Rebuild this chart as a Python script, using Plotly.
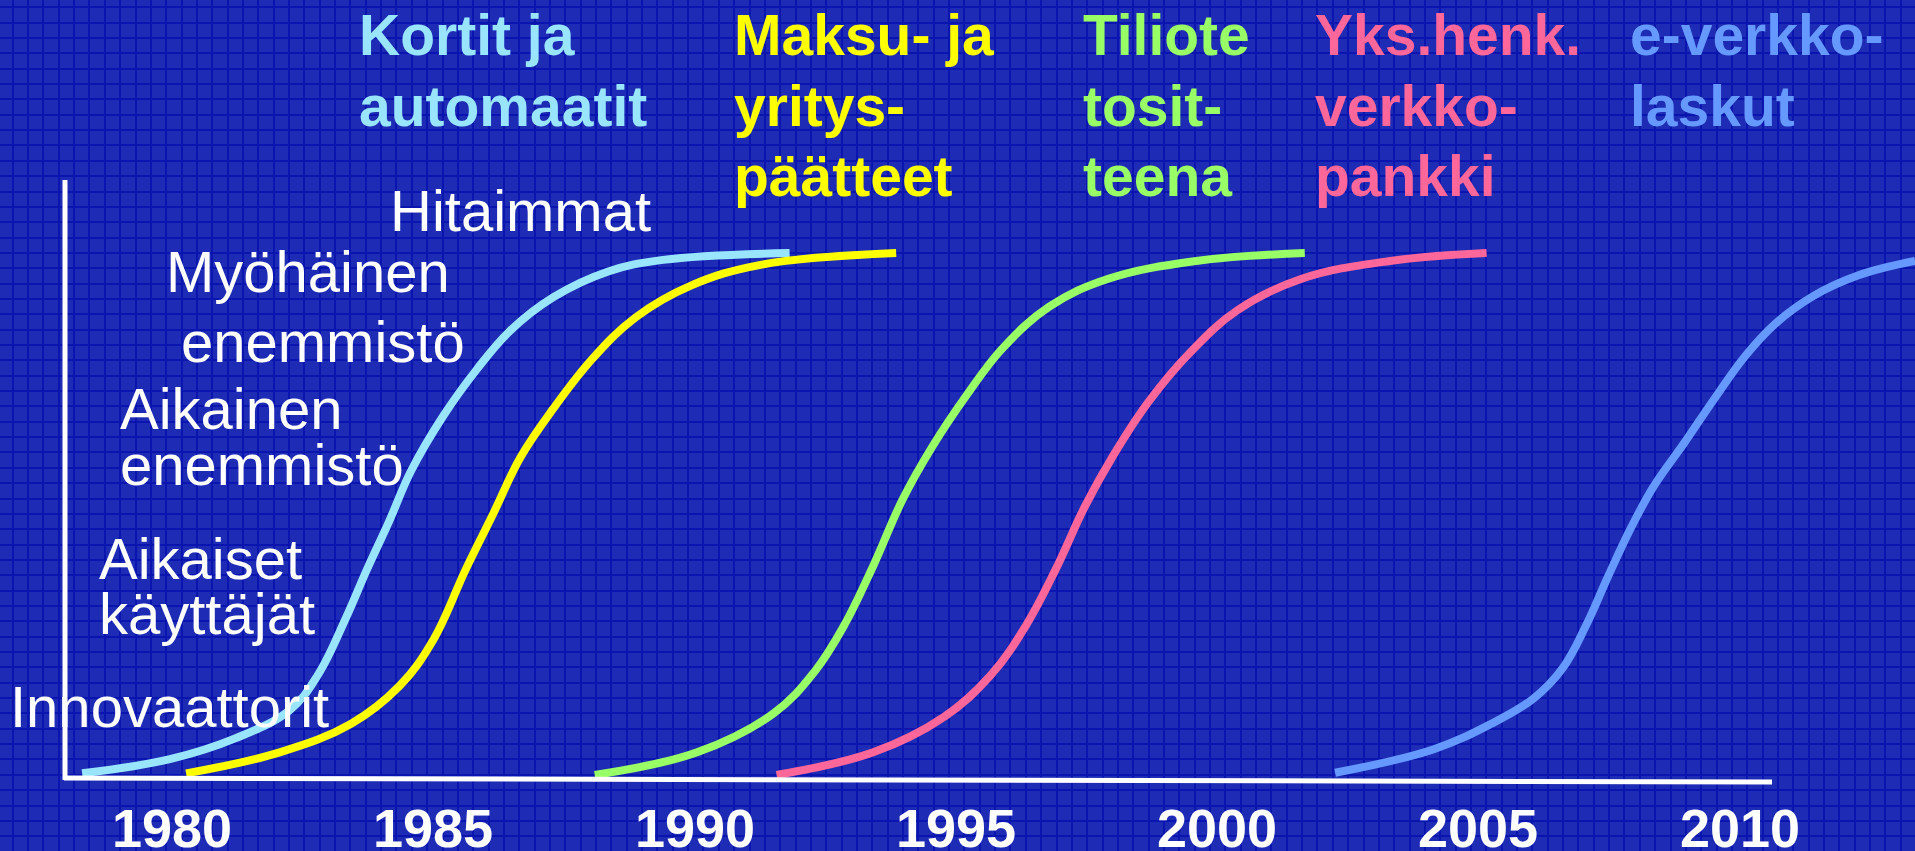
import plotly.graph_objects as go

W, H = 1915, 851

# adoption curves (year, share of adopters %)
kortit_x = [1978.28, 1979.96, 1981.22, 1982.26, 1982.79, 1983.32, 1983.73, 1984.16,
            1984.57, 1985.20, 1985.83, 1986.46, 1987.30, 1988.35, 1989.40, 1991.82]
kortit_y = [0.7, 3.4, 7.4, 12.8, 19.4, 30.1, 39.5, 48.8, 58.2, 68.9, 77.6, 84.9, 91.4, 96.3, 98.5, 99.8]

maksu_x = [1980.27, 1982.06, 1983.42, 1984.36, 1985.00, 1985.62, 1986.15, 1986.67,
           1987.30, 1988.04, 1988.88, 1989.93, 1991.29, 1993.86]
maksu_y = [0.7, 4.7, 10.1, 17.4, 26.1, 39.5, 50.2, 60.9, 70.2, 79.6, 87.6, 93.6, 97.6, 99.8]

tiliote_x = [1988.09, 1990.05, 1991.51, 1992.30, 1992.86, 1993.42, 1993.98, 1994.55,
             1995.22, 1995.89, 1996.79, 1997.92, 1999.60, 2001.68]
tiliote_y = [0.4, 4.7, 12.1, 20.1, 28.8, 40.2, 52.8, 62.9, 72.9, 81.6, 89.6, 94.9, 98.3, 99.8]

verkkopankki_x = [1991.57, 1993.42, 1994.77, 1995.67, 1996.34, 1996.91, 1997.47, 1998.03,
                  1998.70, 1999.49, 2000.39, 2001.62, 2003.31, 2005.16]
verkkopankki_y = [0.4, 4.7, 11.4, 19.4, 28.8, 39.5, 51.5, 61.5, 71.6, 80.9, 88.9, 94.9, 98.3, 99.8]

everkkolaskut_x = [2002.26, 2004.15, 2005.24, 2006.05, 2006.62, 2007.06, 2007.48, 2007.92,
                   2008.36, 2008.94, 2009.53, 2010.11, 2010.68, 2011.41, 2012.29, 2013.36]
everkkolaskut_y = [0.8, 5.3, 10.1, 14.9, 20.8, 28.8, 38.1, 47.4, 55.4, 63.6, 72.2, 80.2,
                   86.3, 91.6, 95.6, 98.3]

tick_years = [1980, 1985, 1990, 1995, 2000, 2005, 2010]

kortit_label = ["Kortit ja", "automaatit"]
maksu_label = ["Maksu- ja", "yritys-", "päätteet"]
tiliote_label = ["Tiliote", "tosit-", "teena"]
verkkopankki_label = ["Yks.henk.", "verkko-", "pankki"]
everkkolaskut_label = ["e-verkko-", "laskut"]

stage_labels = ["Hitaimmat", "Myöhäinen", "enemmistö", "Aikainen", "enemmistö",
                "Aikaiset", "käyttäjät", "Innovaattorit"]

# pixel calibration of the slide
X0_PX, PX_PER_YEAR = 172, 52.25   # 1980 sits at x=172 px
Y0_PX, PX_PER_PCT = 777, 5.25     # 0 % sits at y=777 px
GRID_PX = 15.35


def px_x(px):
    return 1980 + (px - X0_PX) / PX_PER_YEAR


def px_y(py):
    return (Y0_PX - py) / PX_PER_PCT


BG = '#1e2bb4'
GRID = '#0a15b0'
FONT = 'Arial, Liberation Sans, sans-serif'

series = [
    (kortit_x, kortit_y, '#99E5FF', kortit_label, 357),
    (maksu_x, maksu_y, '#FFFF00', maksu_label, 732),
    (tiliote_x, tiliote_y, '#99FF66', tiliote_label, 1081),
    (verkkopankki_x, verkkopankki_y, '#FF6699', verkkopankki_label, 1313),
    (everkkolaskut_x, everkkolaskut_y, '#6699FF', everkkolaskut_label, 1628),
]
title_rows_px = [35, 106, 176]

fig = go.Figure()
annotations = []

for xs, ys, color, label, left_px in series:
    fig.add_trace(go.Scatter(
        x=xs, y=ys, mode='lines', line=dict(color=color, width=8, shape='spline', smoothing=1.1),
        showlegend=False, hoverinfo='skip'
    ))
    for row, text in enumerate(label):
        annotations.append(dict(
            x=px_x(left_px), y=px_y(title_rows_px[row]), xref='x', yref='y',
            text='<b>' + text + '</b>', showarrow=False, xanchor='left', yanchor='middle',
            font=dict(family=FONT, size=57, color=color)
        ))

# stage labels on the left
stage_pos_px = [(653, 210, 'right'), (164, 271, 'left'), (179, 341, 'left'),
                (118, 408, 'left'), (118, 464, 'left'), (97, 558, 'left'),
                (97, 613, 'left'), (8, 706, 'left')]
for text, (px, py, anchor) in zip(stage_labels, stage_pos_px):
    annotations.append(dict(
        x=px_x(px), y=px_y(py), xref='x', yref='y', text=text, showarrow=False,
        xanchor=anchor, yanchor='middle', font=dict(family=FONT, size=58, color='white')
    ))

# year labels
for yr in tick_years:
    annotations.append(dict(
        x=yr, y=px_y(828), xref='x', yref='y', text='<b>%d</b>' % yr, showarrow=False,
        xanchor='center', yanchor='middle', font=dict(family=FONT, size=54, color='white')
    ))

# hand drawn axes
shapes = [
    dict(type='line', xref='x', yref='y', x0=px_x(65), x1=px_x(65), y0=px_y(180), y1=px_y(780),
         line=dict(color='white', width=5)),
    dict(type='line', xref='x', yref='y', x0=px_x(64), x1=px_x(1772), y0=px_y(778), y1=px_y(782),
         line=dict(color='white', width=5)),
]

fig.update_layout(
    width=W, height=H,
    margin=dict(l=0, r=0, t=0, b=0),
    paper_bgcolor=BG, plot_bgcolor=BG,
    annotations=annotations, shapes=shapes,
    xaxis=dict(range=[px_x(0), px_x(W)], tick0=px_x(12.7), dtick=GRID_PX / PX_PER_YEAR,
               showgrid=True, gridcolor=GRID, gridwidth=1.5, showticklabels=False,
               zeroline=False, showline=False, ticks='', fixedrange=True),
    yaxis=dict(range=[px_y(H), px_y(0)], tick0=px_y(7.3), dtick=GRID_PX / PX_PER_PCT,
               showgrid=True, gridcolor=GRID, gridwidth=1.5, showticklabels=False,
               zeroline=False, showline=False, ticks='', fixedrange=True),
)

fig.write_html("out.html", config={'displayModeBar': False},
               post_script="document.body.style.margin='0';document.body.style.overflow='hidden';")
